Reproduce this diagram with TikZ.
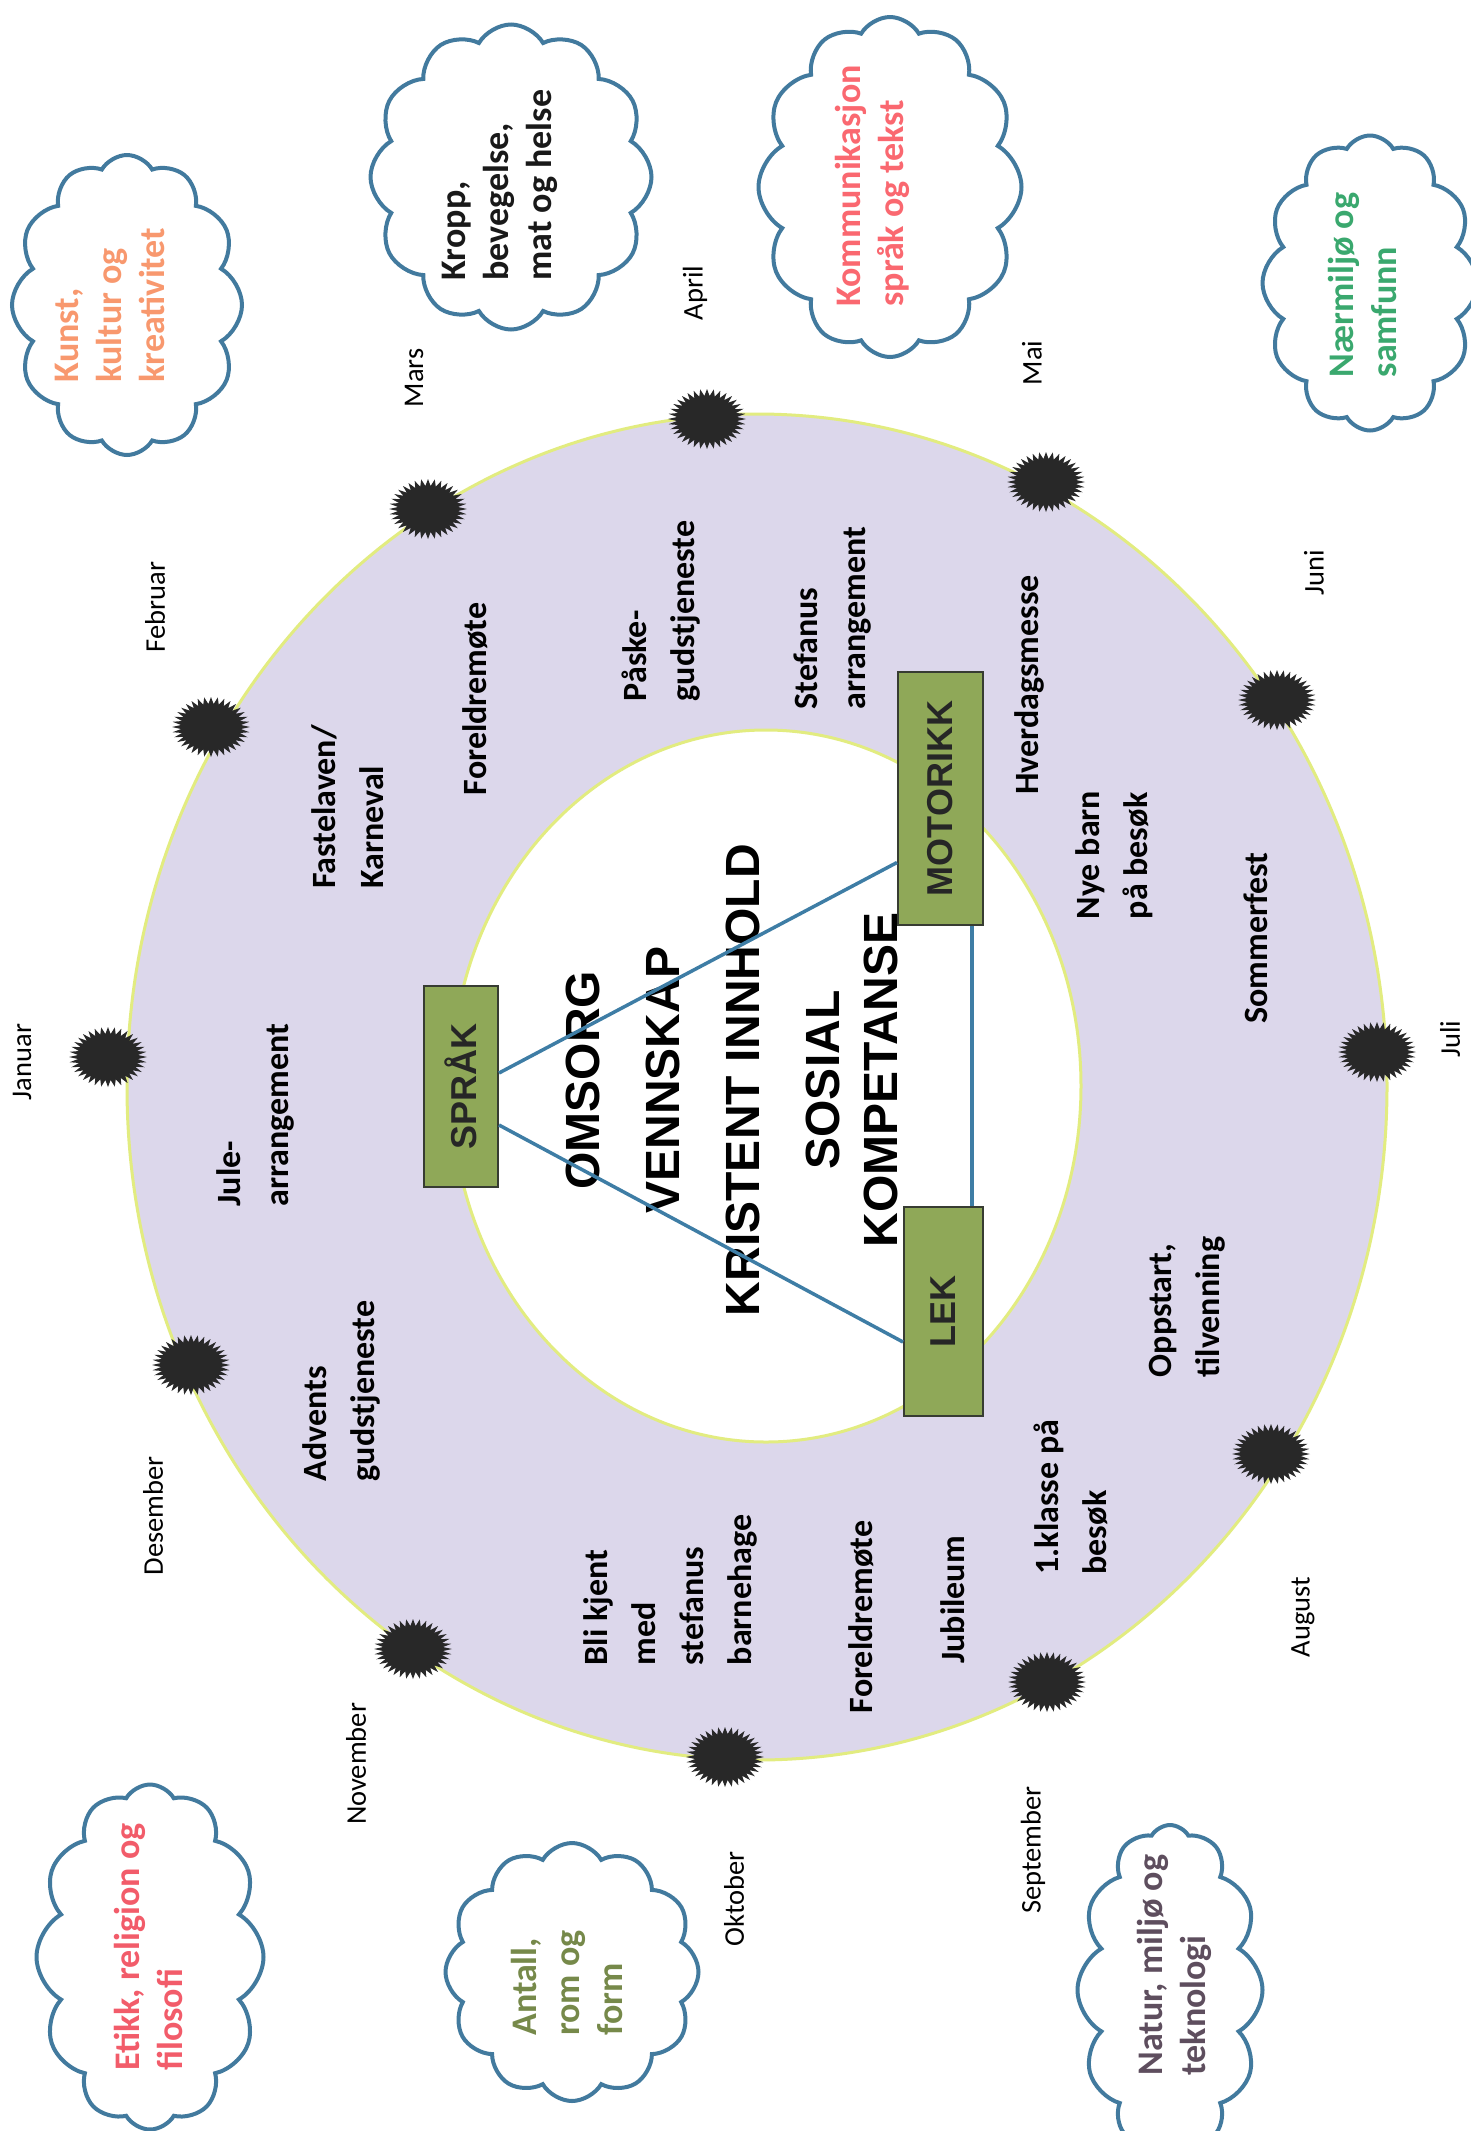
\documentclass[tikz,border=0pt]{standalone}
\usepackage{fontspec}
\setmainfont{Carlito}
\newfontfamily\arialfont{Liberation Sans}
\usepackage{tikz}
\usetikzlibrary{shapes.geometric, shapes.symbols}
\definecolor{ringlilla}{RGB}{220,215,235}
\definecolor{ringkant}{RGB}{226,236,128}
\definecolor{boksgronn}{RGB}{143,168,88}
\definecolor{boksrand}{RGB}{55,60,50}
\definecolor{linjeblaa}{RGB}{62,125,165}
\definecolor{skyblaa}{RGB}{66,122,158}
\definecolor{stjernegraa}{RGB}{40,40,40}
\definecolor{kunstfarge}{RGB}{248,152,110}
\definecolor{kommfarge}{RGB}{250,104,112}
\definecolor{miljofarge}{RGB}{58,168,110}
\definecolor{etikkfarge}{RGB}{242,92,106}
\definecolor{antallfarge}{RGB}{118,137,74}
\definecolor{naturfarge}{RGB}{94,78,94}

\begin{document}
\begin{tikzpicture}[x=1pt, y=-1pt,
	maaned/.style={rotate=90, inner sep=0pt, font=\fontsize{28.5}{34}\selectfont},
	hendelse/.style={rotate=90, align=left, inner sep=0pt, font=\bfseries\fontsize{34}{48}\selectfont},
	kjernetekst/.style={rotate=90, align=center, inner sep=0pt, font=\arialfont\bfseries\fontsize{48}{58}\selectfont},
	boks/.style={rotate=90, draw=boksrand, line width=2pt, fill=boksgronn, inner sep=0pt, text=black!85, font=\arialfont\bfseries\fontsize{36}{44}\selectfont},
	stjerne/.style={star, star points=36, star point ratio=1.3, minimum size=60pt, inner sep=0pt, fill=stjernegraa, xscale=1.3},
	sky/.style={cloud, cloud puffs=12, cloud puff arc=120, draw=skyblaa, line width=4pt, fill=white, inner sep=0pt},
	skytekst/.style={rotate=90, align=left, inner sep=0pt, font=\bfseries\fontsize{36}{43}\selectfont},
	kobling/.style={draw=linjeblaa, line width=3.5pt}]
	
	\useasboundingbox (0,0) rectangle (1470,2131);
	\fill[white] (0,0) rectangle (1470,2131);
	
	% RING
	
	\fill[ringlilla, even odd rule] (757,1087) ellipse [x radius=630pt, y radius=673pt]
		(766,1086) ellipse [x radius=315pt, y radius=356pt];
	\draw[ringkant, line width=3pt] (757,1087) ellipse [x radius=630pt, y radius=673pt];
	\draw[ringkant, line width=3pt] (766,1086) ellipse [x radius=315pt, y radius=356pt];
	
	% MÅNEDER
	
	\foreach \sx/\sy/\lx/\ly/\mnd in {108/1057/22/1062/Januar, 211/727/155/607/Februar,
		428/509/414/378/Mars, 707/419/695/293/April, 1046/482/1032/363/Mai,
		1277/700/1314/573/Juni, 1377/1052/1450/1039/Juli, 1271/1454/1303/1617/August,
		1047/1682/1033/1850/September, 725/1757/734/1899/Oktober,
		413/1649/356/1764/November, 191/1365/153/1516/Desember}{
		\node[stjerne] (stjerne-\mnd) at (\sx,\sy) {};
		\node[maaned] (\mnd) at (\lx,\ly) {\mnd};
	}
	
	% HENDELSER
	
	\node[hendelse] (fastelaven) at (348,807) {Fastelaven/\\Karneval};
	\node[hendelse] (foreldremote-vaar) at (475,699) {Foreldremøte};
	\node[hendelse] (paaske) at (661,611) {Påske-\\gudstjeneste};
	\node[hendelse] (stefanus) at (833,618) {Stefanus\\arrangement};
	\node[hendelse] (hverdagsmesse) at (1029,685) {Hverdagsmesse};
	\node[hendelse] (nyebarn) at (1114,855) {Nye barn\\på besøk};
	\node[hendelse] (sommerfest) at (1256,938) {Sommerfest};
	\node[hendelse] (oppstart) at (1187,1307) {Oppstart,\\tilvenning};
	\node[hendelse] (forsteklasse) at (1071,1497) {1.klasse på\\besøk};
	\node[hendelse] (jubileum) at (953,1600) {Jubileum};
	\node[hendelse] (foreldremote-host) at (861,1617) {Foreldremøte};
	\node[hendelse] (blikjent) at (670,1590) {Bli kjent\\med\\stefanus\\barnehage};
	\node[hendelse] (advent) at (341,1391) {Advents\\gudstjeneste};
	\node[hendelse] (jul) at (255,1115) {Jule-\\arrangement};
	
	% KJERNE
	
	\node[kjernetekst, anchor=base] (kjerne) at (897,1080)
		{OMSORG\\[22pt]VENNSKAP\\[22pt]KRISTENT INNHOLD\\[22pt]SOSIAL\\KOMPETANSE};
	
	\node[boks, minimum width=201pt, minimum height=74pt] (sprak) at (461,1086.5) {SPRÅK};
	\node[boks, minimum width=253pt, minimum height=85pt] (motorikk) at (940.5,798.5) {MOTORIKK};
	\node[boks, minimum width=209pt, minimum height=79pt] (lek) at (943.5,1311.5) {LEK};
	
	\draw[kobling] ([yshift=13.5pt]sprak.south) -- ([yshift=-64pt]motorikk.north);
	\draw[kobling] ([yshift=-38.5pt]sprak.south) -- ([yshift=-30.5pt]lek.north);
	\draw[kobling] ([xshift=31.5pt]motorikk.west) -- ([xshift=28.5pt]lek.east);
	
	% SKYER
	
	\node[sky, minimum width=230pt, minimum height=300pt] (sky-kunst) at (127,305) {};
	\node[skytekst, text=kunstfarge] (kunst) at (110,305) {Kunst,\\kultur og\\kreativitet};
	
	\node[sky, minimum width=281pt, minimum height=305pt] (sky-kropp) at (511,177) {};
	\node[skytekst, text=black!90] (kropp) at (500,185) {Kropp,\\bevegelse,\\mat og helse};
	
	\node[sky, minimum width=263pt, minimum height=340pt] (sky-komm) at (890,187) {};
	\node[skytekst, text=kommfarge] (komm) at (872,186) {Kommunikasjon\\språk og tekst};
	
	\node[sky, minimum width=215pt, minimum height=295pt] (sky-miljo) at (1370,283) {};
	\node[skytekst, text=miljofarge] (miljo) at (1362,285) {Nærmiljø og\\samfunn};
	
	\node[sky, minimum width=227pt, minimum height=345pt] (sky-etikk) at (150,1957) {};
	\node[skytekst, text=etikkfarge] (etikk) at (148,1947) {Etikk, religion og\\filosofi};
	
	\node[sky, minimum width=253pt, minimum height=258pt] (sky-antall) at (572,1972) {};
	\node[skytekst, text=antallfarge] (antall) at (567,1983) {Antall,\\rom og\\form};
	
	\node[sky, minimum width=185pt, minimum height=330pt] (sky-natur) at (1170,1990) {};
	\node[skytekst, text=naturfarge] (natur) at (1174,1965) {Natur, miljø og\\teknologi};
	
\end{tikzpicture}
\end{document}
